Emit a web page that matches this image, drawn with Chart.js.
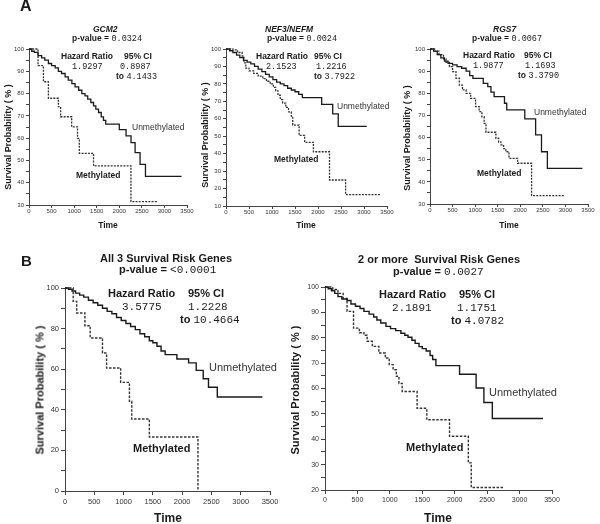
<!DOCTYPE html>
<html>
<head>
<meta charset="utf-8">
<script src="https://cdn.jsdelivr.net/npm/chart.js@4.4.1/dist/chart.umd.min.js"></script>
<style>
body{margin:0;background:#fff;width:600px;height:524px;position:relative;overflow:hidden;font-family:Arial,"Liberation Sans",sans-serif;color:#1a1a1a}
canvas{position:absolute}
.t{position:absolute;white-space:nowrap;line-height:1;transform:translateY(-50%)}
.c{position:absolute;white-space:nowrap;line-height:1;transform:translate(-50%,-50%);font-weight:bold}
.b{font-weight:bold}
.m{font-family:"Courier New","Liberation Mono",monospace;font-weight:normal}
.rot{position:absolute;white-space:nowrap;line-height:1;font-weight:bold;transform:translate(-50%,-50%) rotate(-90deg)}
.a{font-size:8.5px}
.bb{font-size:11px}
.u{color:#333;font-weight:normal}
</style>
</head>
<body>
<canvas id="c1" width="200" height="240" style="left:0;top:0"></canvas>
<canvas id="c2" width="200" height="240" style="left:200px;top:0"></canvas>
<canvas id="c3" width="200" height="240" style="left:400px;top:0"></canvas>
<canvas id="c4" width="300" height="284" style="left:0;top:240px"></canvas>
<canvas id="c5" width="300" height="284" style="left:300px;top:240px"></canvas>

<div class="t b" style="left:20px;top:6px;font-size:16px">A</div>
<div class="t b" style="left:21px;top:260px;font-size:15px">B</div>

<!-- A1 -->
<div class="t a b" style="left:93px;top:29px;font-style:italic">GCM2</div>
<div class="t a b" style="left:72px;top:39px">p-value = <span class="m">0.0324</span></div>
<div class="t a b" style="left:61px;top:56px">Hazard Ratio</div>
<div class="t a b" style="left:124px;top:56px">95% CI</div>
<div class="t a m" style="left:72px;top:67px">1.9297</div>
<div class="t a m" style="left:120px;top:67px">0.8987</div>
<div class="t a b" style="left:116px;top:77px">to <span class="m">4.1433</span></div>
<div class="t u" style="left:132px;top:127px;font-size:8.5px">Unmethylated</div>
<div class="t b" style="left:76px;top:175px;font-size:8.5px">Methylated</div>
<div class="c a" style="left:108px;top:225px">Time</div>
<div class="rot" style="left:8px;top:137px;font-size:9px">Survival Probability ( % )</div>

<!-- A2 -->
<div class="t a b" style="left:265px;top:29px;font-style:italic">NEF3/NEFM</div>
<div class="t a b" style="left:267px;top:39px">p-value = <span class="m">0.0024</span></div>
<div class="t a b" style="left:256px;top:56px">Hazard Ratio</div>
<div class="t a b" style="left:314px;top:56px">95% CI</div>
<div class="t a m" style="left:266px;top:67px">2.1523</div>
<div class="t a m" style="left:316px;top:67px">1.2216</div>
<div class="t a b" style="left:314px;top:77px">to <span class="m">3.7922</span></div>
<div class="t u" style="left:337px;top:106px;font-size:8.5px">Unmethylated</div>
<div class="t b" style="left:274px;top:159px;font-size:8.5px">Methylated</div>
<div class="c a" style="left:306px;top:225px">Time</div>
<div class="rot" style="left:205px;top:135px;font-size:9px">Survival Probability ( % )</div>

<!-- A3 -->
<div class="t a b" style="left:493px;top:29px;font-style:italic">RGS7</div>
<div class="t a b" style="left:472px;top:39px">p-value = <span class="m">0.0067</span></div>
<div class="t a b" style="left:463px;top:55px">Hazard Ratio</div>
<div class="t a b" style="left:524px;top:55px">95% CI</div>
<div class="t a m" style="left:473px;top:66px">1.9877</div>
<div class="t a m" style="left:525px;top:66px">1.1693</div>
<div class="t a b" style="left:518px;top:76px">to <span class="m">3.3790</span></div>
<div class="t u" style="left:534px;top:112px;font-size:8.5px">Unmethylated</div>
<div class="t b" style="left:477px;top:173px;font-size:8.5px">Methylated</div>
<div class="c a" style="left:509px;top:225px">Time</div>
<div class="rot" style="left:407px;top:138px;font-size:9px">Survival Probability ( % )</div>

<!-- B1 -->
<div class="t bb b" style="left:100px;top:258px">All 3 Survival Risk Genes</div>
<div class="t bb b" style="left:119px;top:270px">p-value = <span class="m">&lt;0.0001</span></div>
<div class="t bb b" style="left:108px;top:293px">Hazard Ratio</div>
<div class="t bb b" style="left:188px;top:293px">95% CI</div>
<div class="t bb m" style="left:122px;top:307px">3.5775</div>
<div class="t bb m" style="left:188px;top:307px">1.2228</div>
<div class="t bb b" style="left:180px;top:320px">to <span class="m">10.4664</span></div>
<div class="t bb u" style="left:209px;top:367px">Unmethylated</div>
<div class="t bb b" style="left:133px;top:448px">Methylated</div>
<div class="c" style="left:168px;top:518px;font-size:12px">Time</div>
<div class="rot" style="left:40px;top:390px;font-size:11px">Survival Probability ( % )</div>

<!-- B2 -->
<div class="t bb b" style="left:358px;top:259px">2 or more&nbsp; Survival Risk Genes</div>
<div class="t bb b" style="left:393px;top:272px">p-value = <span class="m">0.0027</span></div>
<div class="t bb b" style="left:379px;top:294px">Hazard Ratio</div>
<div class="t bb b" style="left:459px;top:294px">95% CI</div>
<div class="t bb m" style="left:392px;top:308px">2.1891</div>
<div class="t bb m" style="left:457px;top:308px">1.1751</div>
<div class="t bb b" style="left:451px;top:321px">to <span class="m">4.0782</span></div>
<div class="t bb u" style="left:489px;top:392px">Unmethylated</div>
<div class="t bb b" style="left:406px;top:447px">Methylated</div>
<div class="c" style="left:438px;top:518px;font-size:12px">Time</div>
<div class="rot" style="left:295px;top:390px;font-size:11px">Survival Probability ( % )</div>

<script>
// GCM2
const gcm2UnT = [0,60,120,200,280,350,430,500,580,650,720,800,870,950,1020,1100,1170,1240,1300,1370,1430,1480,1540,1600,1650,1700,2000,2150,2260,2350,2460,2580,3380];
const gcm2UnS = [100,99,98.5,97,96,95,93.5,92.5,91.5,90,89,87.5,86,84.5,83,81.5,80,79,77.5,76,74.5,73,71.5,69.5,68,66.3,63.8,61,58,53.5,48.2,42.8,42.8];
const gcm2MeT = [0,200,320,430,650,700,945,1075,1115,1430,2258,2830];
const gcm2MeS = [100,92.5,85.3,77.9,74.1,69.6,65.1,59.9,53.2,47.6,31.5,31.5];

// NEF3/NEFM
const nefUnT = [0,80,150,230,300,380,460,540,620,700,780,860,940,1020,1100,1180,1260,1340,1420,1500,1580,1660,2080,2320,2440,3060];
const nefUnS = [100,99,98,96.5,95,93.5,92.5,91.5,90,88.5,87,85.5,84,82.5,81,80,79,77.5,76.5,75.5,74,72.1,68.3,62.8,55.7,55.7];
const nefMeT = [0,150,250,350,390,430,500,600,700,800,880,960,1030,1080,1130,1180,1230,1300,1360,1420,1450,1590,1710,1900,2250,2600,3360];
const nefMeS = [100,99.5,98,96,92,89,87.5,86,84.5,83,81.5,80,78,76,73.5,71,69,66.5,64,61.5,56.4,50.5,46.5,41.1,24.9,16.5,16.5];

// RGS7
const rgsUnT = [0,80,160,240,320,400,500,600,700,800,880,950,1180,1280,1350,1420,1650,1700,2100,2340,2470,2600,3375];
const rgsUnS = [100,99,97.5,96,94.5,93.5,92.8,92,91.3,90,88,86.7,84.5,83,80.5,78.5,75.5,72.5,68.4,61.2,53.6,46.1,46.1];
const rgsMeT = [0,100,200,300,354,430,500,575,650,720,800,900,1010,1090,1150,1200,1240,1460,1520,1570,1630,1680,1750,1940,2250,2980];
const rgsMeS = [100,99,97.5,95.5,94,92,89.8,86.8,83.7,81.5,80,77.7,74,71.7,69.4,66.4,62.4,59.7,58,56.7,55,53.6,50.6,48.4,33.8,33.8];

// All 3 survival risk genes
const allUnT = [0,60,120,180,250,320,400,480,560,640,720,800,880,960,1040,1120,1200,1280,1360,1440,1500,1570,1640,1710,1910,2110,2240,2360,2450,2600,3370];
const allUnS = [100,99.3,98.5,97.5,96.5,95.5,94,92.7,91.5,90,88.5,87.3,85.5,84,82.5,81,79.5,77.5,76,74,73,71.3,69,67.2,65,63.1,59.4,55.3,51.1,46.3,46.3];
const allMeT = [0,140,200,340,430,640,710,950,1100,1140,1440,2270];
const allMeS = [100,93.4,87.7,81.4,75.4,68,60.6,53.5,44.2,35.5,26.6,0];

// 2 or more survival risk genes
const twoUnT = [0,50,100,150,200,260,340,400,470,540,600,680,750,800,860,940,1010,1090,1170,1230,1280,1340,1390,1450,1500,1560,1620,1660,1710,2075,2330,2450,2580,3360];
const twoUnS = [100,99.3,98.5,97.5,96.2,95.3,94.7,93.3,92.4,91.5,90.4,89.3,88.2,87,85.8,84.5,83.6,82.8,81.8,81,80.2,79,77.8,76.5,75.7,74.8,73,71.4,69,65.6,60.2,54.5,48.2,48.2];
const twoMeT = [0,120,200,280,340,440,530,600,650,730,830,930,990,1050,1100,1140,1190,1420,1570,1920,2210,2255,2750];
const twoMeS = [100,99,97.5,95.5,90.4,83.8,82,81,78.6,76.6,74,72,69.4,67.4,64.8,62,58.8,52.2,47.7,41.2,30.7,21,21];

const pts = (t, s) => t.map((x, i) => ({x: x, y: s[i]}));
const FONT = 'Arial, "Liberation Sans", sans-serif';

const makeChart = (id, c) => {
  new Chart(document.getElementById(id), {
    type: 'line',
    data: {
      datasets: [
        {data: pts(c.unT, c.unS), borderColor: '#1a1a1a', borderWidth: c.lw, stepped: true, pointRadius: 0, fill: false, clip: false},
        {data: pts(c.meT, c.meS), borderColor: '#333', borderWidth: c.lw, borderDash: c.dash, stepped: true, pointRadius: 0, fill: false, clip: false}
      ]
    },
    options: {
      responsive: false,
      animation: false,
      events: [],
      layout: {padding: c.pad},
      plugins: {legend: {display: false}, tooltip: {enabled: false}},
      scales: {
        x: {
          type: 'linear', min: 0, max: 3500,
          afterFit: (s) => { s.height = c.xh; },
          ticks: {stepSize: 500, autoSkip: false, maxRotation: 0, padding: c.xpad, color: '#333',
                  font: {size: c.fs, family: FONT}, callback: (v) => String(v)},
          grid: {drawOnChartArea: false, tickLength: c.tl, color: '#444'},
          border: {color: '#444', width: 1}
        },
        y: {
          min: c.ymin, max: 100,
          afterFit: (s) => { s.width = c.yw; },
          ticks: {stepSize: c.ystep, autoSkip: false, padding: 2, color: '#333',
                  font: {size: c.fs, family: FONT},
                  callback: (v) => (v % c.ylab === 0 ? String(v) : '')},
          grid: {drawOnChartArea: false, tickLength: c.tl, color: '#444'},
          border: {color: '#444', width: 1}
        }
      }
    }
  });
};

makeChart('c1', {unT: gcm2UnT, unS: gcm2UnS, meT: gcm2MeT, meS: gcm2MeS, lw: 1.3, dash: [2, 1.2],
  pad: {left: 0, top: 49, right: 13, bottom: 0}, xh: 35, yw: 29, ymin: 30, ystep: 5, ylab: 10, fs: 6, tl: 3, xpad: 0});
makeChart('c2', {unT: nefUnT, unS: nefUnS, meT: nefMeT, meS: nefMeS, lw: 1.3, dash: [2, 1.2],
  pad: {left: 0, top: 49, right: 13, bottom: 0}, xh: 34, yw: 26, ymin: 10, ystep: 5, ylab: 10, fs: 6, tl: 3, xpad: 0});
makeChart('c3', {unT: rgsUnT, unS: rgsUnS, meT: rgsMeT, meS: rgsMeS, lw: 1.3, dash: [2, 1.2],
  pad: {left: 0, top: 49, right: 12, bottom: 0}, xh: 36, yw: 30, ymin: 30, ystep: 5, ylab: 10, fs: 6, tl: 3, xpad: 0});
makeChart('c4', {unT: allUnT, unS: allUnS, meT: allMeT, meS: allMeS, lw: 1.4, dash: [2.5, 1.5],
  pad: {left: 0, top: 48, right: 30, bottom: 0}, xh: 33, yw: 65, ymin: 0, ystep: 10, ylab: 20, fs: 7.5, tl: 4, xpad: 2});
makeChart('c5', {unT: twoUnT, unS: twoUnS, meT: twoMeT, meS: twoMeS, lw: 1.4, dash: [2.5, 1.5],
  pad: {left: 0, top: 47, right: 48, bottom: 0}, xh: 34, yw: 25, ymin: 20, ystep: 5, ylab: 10, fs: 7, tl: 4, xpad: 2});
</script>
</body>
</html>
